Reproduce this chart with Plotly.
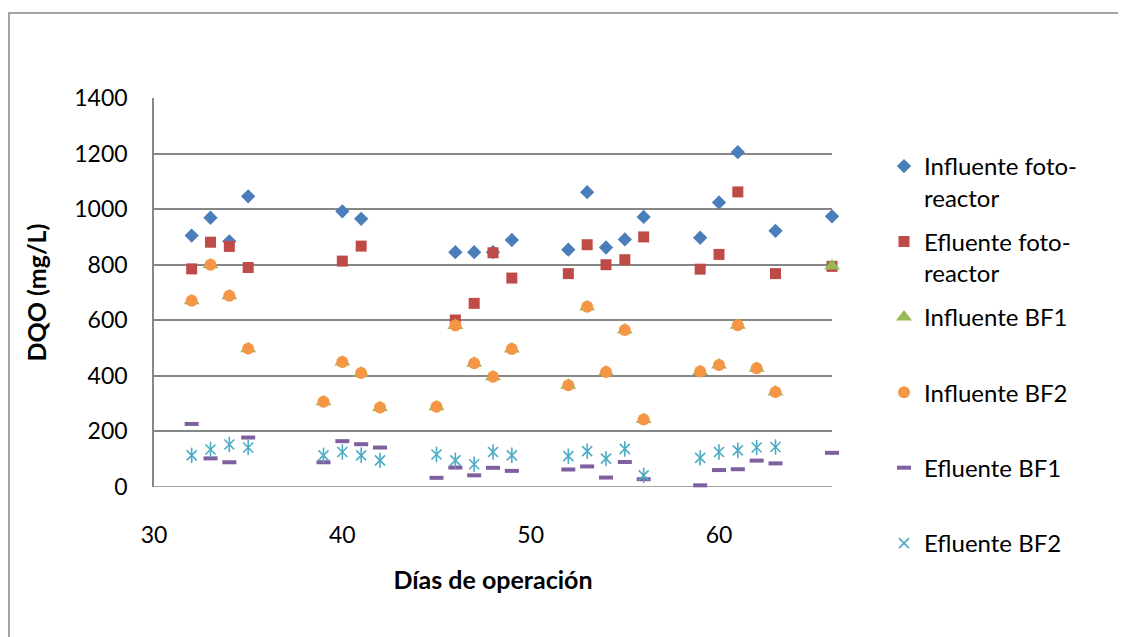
import plotly.graph_objects as go

# ---- data ----
days_foto = [32, 33, 34, 35, 40, 41, 46, 47, 48, 49, 52, 53, 54, 55, 56, 59, 60, 61, 63, 66]
influente_foto = [905, 969, 884, 1046, 992, 965, 845, 845, 845, 889, 854, 1061, 862, 891, 972, 897, 1024, 1205, 922, 974]
efluente_foto = [785, 881, 866, 790, 813, 867, 601, 661, 843, 752, 768, 872, 800, 818, 900, 784, 837, 1062, 768, 794]

days_bf = [32, 33, 34, 35, 39, 40, 41, 42, 45, 46, 47, 48, 49, 52, 53, 54, 55, 56, 59, 60, 61, 62, 63]
days_bf1 = days_bf + [66]
influente_bf1 = [670, 800, 688, 498, 307, 450, 410, 286, 289, 581, 445, 397, 497, 366, 649, 414, 565, 243, 416, 439, 582, 427, 342, 795]
influente_bf2 = [670, 800, 688, 498, 307, 450, 410, 286, 289, 581, 445, 397, 497, 366, 649, 414, 565, 243, 416, 439, 582, 427, 342]
efluente_bf1 = [227, 103, 89, 178, 89, 165, 154, 142, 33, 70, 42, 69, 58, 63, 74, 34, 90, 28, 6, 61, 64, 95, 85, 123]
efluente_bf2 = [114, 135, 153, 142, 114, 126, 114, 96, 117, 96, 82, 126, 114, 111, 129, 102, 137, 42, 105, 126, 132, 142, 144]

names = ["Influente foto-<br>reactor", "Efluente foto-<br>reactor", "Influente BF1<br> ",
         "Influente BF2<br> ", "Efluente BF1<br> ", "Efluente BF2<br> "]
colors = ["#4A7EBB", "#BE4B48", "#98B954", "#F59646", "#7E60A0", "#4BACC6"]

FONT = "Lato, 'Open Sans', sans-serif"
FS = 23
fig = go.Figure()

fig.add_trace(go.Scatter(x=days_foto, y=influente_foto, mode="markers", name=names[0], legendgroup="g1",
                         marker=dict(symbol="diamond", size=11, color=colors[0]), cliponaxis=False))
fig.add_trace(go.Scatter(x=days_foto, y=efluente_foto, mode="markers", name=names[1], legendgroup="g2",
                         marker=dict(symbol="square", size=11, color=colors[1]), cliponaxis=False))
fig.add_trace(go.Scatter(x=days_bf1, y=influente_bf1, mode="markers", name=names[2], legendgroup="g3",
                         marker=dict(symbol="triangle-up", size=14, color=colors[2]), cliponaxis=False))
fig.add_trace(go.Scatter(x=days_bf, y=influente_bf2, mode="markers", name=names[3], legendgroup="g4",
                         marker=dict(symbol="circle", size=12, color=colors[3]), cliponaxis=False))
fig.add_trace(go.Scatter(x=days_bf1, y=efluente_bf1, mode="markers", name=names[4], legendgroup="g5",
                         marker=dict(symbol="line-ew", size=10, color=colors[4],
                                     line=dict(color=colors[4], width=4)), cliponaxis=False))
fig.add_trace(go.Scatter(x=days_bf, y=efluente_bf2, mode="markers", name=names[5], legendgroup="g6",
                         marker=dict(symbol="x-thin", size=10, color=colors[5],
                                     line=dict(color=colors[5], width=1.6)), cliponaxis=False))
fig.add_trace(go.Scatter(x=days_bf, y=efluente_bf2, mode="markers", name=names[5], legendgroup="g6",
                         showlegend=False,
                         marker=dict(symbol="line-ns", size=11, color=colors[5],
                                     line=dict(color=colors[5], width=1.6)), cliponaxis=False))

# page has an 8px body margin; figure coordinates = page - 8
FW, FH = 1118, 629
L, T = 146, 90
R, B = FW - 824, FH - 479
W, H = FW - L - R, FH - T - B

fig.update_layout(
    width=FW, height=FH,
    margin=dict(l=L, r=R, t=T, b=B, autoexpand=False),
    paper_bgcolor="white", plot_bgcolor="white",
    font=dict(family=FONT, size=FS, color="black"),
    showlegend=True,
    legend=dict(x=(876 - L) / W, xanchor="left", y=(479 - 136) / H, yanchor="top",
                valign="top", tracegroupgap=10, traceorder="grouped", maxheight=620,
                font=dict(family=FONT, size=24, color="black"),
                bgcolor="rgba(0,0,0,0)"),
    xaxis=dict(range=[30, 66], tickvals=[30, 40, 50, 60], showgrid=False, zeroline=False,
               showline=False, ticks="", ticklabelstandoff=32,
               title=dict(text="<b>Días de operación</b>", standoff=24,
                          font=dict(family=FONT, size=25))),
    yaxis=dict(range=[0, 1400], dtick=200, showgrid=True, gridcolor="#878787", gridwidth=1.5,
               zeroline=False, showline=True, linecolor="#878787", linewidth=1.5, ticks="",
               ticklabelstandoff=20,
               title=dict(text="<b>DQO (mg/L)</b>", standoff=21,
                          font=dict(family=FONT, size=25))),
    shapes=[
        dict(type="rect", xref="paper", yref="paper",
             x0=(1 - L) / W, x1=(1140 - L) / W, y0=(479 - 660) / H, y1=(479 - 5) / H,
             line=dict(color="#878787", width=1.5), fillcolor="rgba(0,0,0,0)", layer="below"),
        dict(type="line", xref="paper", yref="y", x0=0, x1=1, y0=0, y1=0,
             line=dict(color="#878787", width=1.5), layer="below"),
    ],
)

fig.write_html("out.html")
